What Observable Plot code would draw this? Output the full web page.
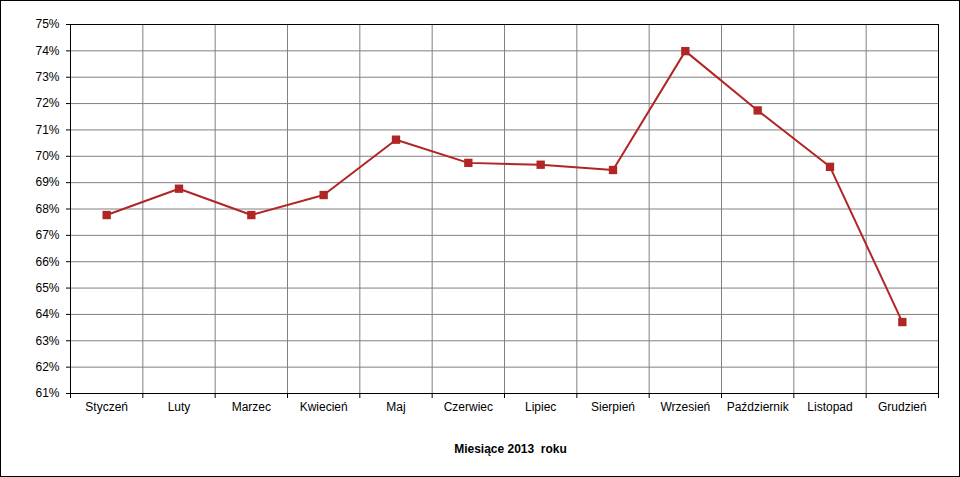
<!DOCTYPE html>
<html>
<head>
<meta charset="utf-8">
<script src="https://cdn.jsdelivr.net/npm/d3@7"></script>
<script src="https://cdn.jsdelivr.net/npm/@observablehq/plot@0.6"></script>
<style>
  body { margin: 0; background: #fff; }
  #chart svg { outline: 1px solid #000; outline-offset: -1px; display: block; }
</style>
</head>
<body>
<div id="chart"></div>
<script>
const months = ["Styczeń","Luty","Marzec","Kwiecień","Maj","Czerwiec","Lipiec","Sierpień","Wrzesień","Październik","Listopad","Grudzień"];
const values = [67.77, 68.77, 67.77, 68.53, 70.63, 69.75, 69.68, 69.48, 73.99, 71.74, 69.6, 63.71];
const yTicks = [61,62,63,64,65,66,67,68,69,70,71,72,73,74,75];
const axisTitle = "Miesiące 2013\u00a0 roku";

const data = months.map((m, i) => ({month: m, idx: i + 0.5, value: values[i]}));
const bounds = d3.range(0, months.length + 1);

const chart = Plot.plot({
  width: 960,
  height: 477,
  marginLeft: 70,
  marginRight: 22,
  marginTop: 24,
  marginBottom: 84,
  style: {fontFamily: "Arial, 'Liberation Sans', sans-serif", fontSize: "12px", background: "#fff", color: "#000"},
  x: {domain: [0, months.length], axis: null},
  y: {domain: [61, 75], axis: null},
  marks: [
    Plot.gridY(yTicks, {stroke: "#808080", strokeOpacity: 1}),
    Plot.gridX(bounds, {stroke: "#808080", strokeOpacity: 1}),
    Plot.frame({stroke: "#000"}),
    Plot.axisY(yTicks, {tickFormat: d => d + "%", tickSize: 4, tickPadding: 7, label: null, stroke: "#000", fontSize: 12}),
    Plot.axisX(bounds, {tickFormat: () => "", tickSize: 5, label: null, stroke: "#000"}),
    Plot.text(data, {x: "idx", text: "month", frameAnchor: "bottom", dy: 17, fontSize: 12, fill: "#000"}),
    Plot.text([axisTitle], {text: d => d, frameAnchor: "bottom", dy: 59, dx: 6, fontWeight: "bold", fontSize: 12, fill: "#000"}),
    Plot.line(data, {x: "idx", y: "value", stroke: "#b22525", strokeWidth: 2}),
    Plot.dot(data, {x: "idx", y: "value", symbol: "square", r: 4.7, fill: "#b22525", stroke: "none"})
  ]
});
document.getElementById("chart").appendChild(chart);
</script>
</body>
</html>
